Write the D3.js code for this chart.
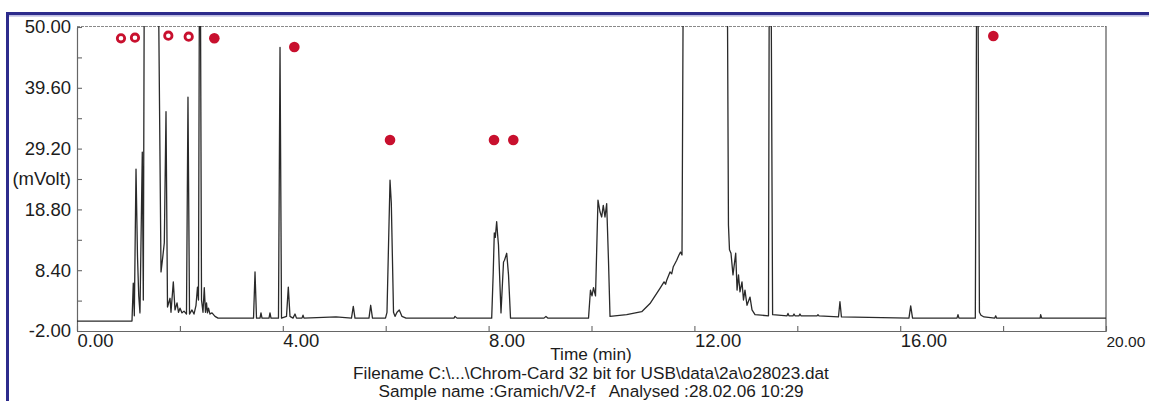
<!doctype html>

<meta charset="utf-8">
<title>chromatogram o28023</title>

<script src="https://d3js.org/d3.v7.min.js"></script>

<style>
  body { margin: 0; background: #fff; }
  svg text { font-family: "Liberation Sans", Arial, sans-serif; fill: #1c1c1c; }
</style>

<body>
<svg id="svg-canvas" width="1149" height="401"></svg>
<script>

// axis ticks
var yMajor = [-2, 8.4, 18.8, 29.2, 39.6, 50];
var yMinor = [3.2, 13.6, 24.0, 34.4, 44.8];
var xMajor = [0, 4, 8, 12, 16, 20];
var xMinor = [2, 6, 10, 14, 18];

// detector trace [time (min), mVolt]. 60 = off scale
var traceA = [
  [0, -0.3], [1.069, -0.3], [1.094, 6.2], [1.114, 0.6], [1.147, 25.7], [1.176, 10.7],
  [1.200, 4.0], [1.224, 1.1], [1.269, 28.6], [1.289, 3.3], [1.308, 60], [1.580, 60],
  [1.633, 8.1], [1.665, 10.5], [1.697, 13.1], [1.730, 35.5], [1.759, 2.1], [1.808, 3.6],
  [1.827, 1.2], [1.872, 6.4], [1.905, 1.6], [1.944, 2.8], [1.973, 1.2], [2.002, 1.9],
  [2.041, 1.1], [2.080, 1.4], [2.128, 0.9], [2.157, 38.0], [2.187, 0.9], [2.235, 1.6],
  [2.274, 0.9], [2.313, 2.4], [2.342, 5.5], [2.361, 3.3], [2.380, 60], [2.398, 60],
  [2.420, 3.3], [2.449, 1.2], [2.474, 5.4], [2.497, 1.2], [2.517, 2.8], [2.536, 1.1],
  [2.556, 1.9], [2.585, 0.9], [2.624, 1.1], [2.682, 0.5], [2.741, 0.2]
];
var traceB = [
  [3.431, 0.2], [3.460, 8.1], [3.489, 0.2], [3.557, 0.2], [3.576, 1.1], [3.596, 0.2],
  [3.732, 0.2], [3.751, 1.1], [3.771, 0.2], [3.916, 0.2], [3.946, 46.5], [3.975, 0.2],
  [4.072, 0.5], [4.107, 5.5], [4.140, 0.5], [4.198, 0.2], [4.237, 0.9], [4.266, 0.2],
  [4.373, 0.2], [4.393, 0.7], [4.412, 0.2], [5.034, 0.4], [5.335, 0.2], [5.370, 2.2],
  [5.403, 0.2], [5.675, 0.2], [5.708, 2.4], [5.743, 0.2], [5.996, 0.2], [6.025, 1.2],
  [6.084, 23.8], [6.109, 19.9], [6.152, 1.2], [6.181, 0.5], [6.220, 1.2], [6.264, 1.6],
  [6.317, 0.5], [6.394, 0.2]
];
var traceC = [
  [7.327, 0.2], [7.347, 0.5], [7.385, 0.2], [8.060, 0.2], [8.090, 8.0], [8.111, 14.8],
  [8.130, 14.0], [8.157, 16.7], [8.175, 14.5], [8.192, 12.7], [8.241, 1.1], [8.290, 9.8],
  [8.309, 10.1], [8.352, 11.3], [8.387, 7.6], [8.426, 0.2], [9.077, 0.2], [9.115, 0.5],
  [9.155, 0.2], [9.942, 0.2], [9.980, 5.0], [10.010, 4.0], [10.039, 5.4], [10.078, 4.0],
  [10.126, 20.4], [10.165, 18.4], [10.198, 17.5], [10.229, 19.5], [10.262, 17.5],
  [10.295, 19.8], [10.330, 10.1], [10.360, 0.5], [10.684, 0.8], [10.976, 1.3],
  [11.137, 2.7], [11.331, 5.3], [11.410, 6.4], [11.440, 6.0], [11.462, 6.7], [11.526, 8.1],
  [11.560, 7.8], [11.590, 9.0], [11.656, 10.1], [11.700, 11.0], [11.730, 11.5],
  [11.759, 11.0], [11.784, 60]
];
var traceD = [
  [12.639, 60], [12.662, 16.1], [12.682, 11.9], [12.711, 11.3], [12.750, 7.6],
  [12.803, 11.3], [12.829, 5.0], [12.857, 7.6], [12.886, 4.7], [12.925, 6.4],
  [12.954, 3.3], [12.983, 5.0], [13.022, 2.4], [13.081, 3.8], [13.120, 1.6],
  [13.178, 0.8], [13.440, 0.6], [13.455, 60], [13.490, 60], [13.520, 0.8],
  [13.800, 0.6], [13.819, 1.0], [13.838, 0.6], [13.916, 0.6], [13.936, 0.9],
  [13.955, 0.6], [14.032, 0.6], [14.052, 0.9], [14.071, 0.6], [14.383, 0.6],
  [14.402, 0.8], [14.421, 0.6], [14.800, 0.4], [14.829, 3.0], [14.858, 0.4],
  [16.170, 0.2], [16.204, 2.3], [16.240, 0.2], [17.104, 0.2], [17.123, 0.8],
  [17.142, 0.2], [17.460, 0.2], [17.487, 60], [17.510, 60], [17.540, 1.2],
  [17.570, 0.7], [17.630, 0.4], [17.836, 0.2], [17.856, 0.6], [17.876, 0.2],
  [18.720, 0.2], [18.730, 0.8], [18.750, 0.2], [20, 0.2]
];

// peak markers [time, mVolt]
var openMarks = [[0.855, 48.07], [1.127, 48.17], [1.775, 48.51], [2.171, 48.34]];
var filledMarks = [[2.669, 48.07], [4.224, 46.58], [6.084, 30.67], [8.105, 30.67],
                   [8.48, 30.67], [17.81, 48.46]];

var fileLines = [
  "Time (min)",
  "Filename C:\\...\\Chrom-Card 32 bit for USB\\data\\2a\\o28023.dat",
  "Sample name :Gramich/V2-f   Analysed :28.02.06 10:29"
];

var trace = traceA.concat(traceB, traceC, traceD);

var svg = d3.select("#svg-canvas");

var x = d3.scaleLinear().domain([0, 20]).range([77, 1106]);
var y = d3.scaleLinear().domain([-2, 50]).range([331, 27]);

// blue frame of the page
svg.append("path")
    .attr("d", "M7.5,401V13.5H1149")
    .attr("fill", "none")
    .attr("stroke", "#2d2b8c")
    .attr("stroke-width", 3);
svg.append("line")
    .attr("x1", 9).attr("x2", 1149).attr("y1", 15.8).attr("y2", 15.8)
    .attr("stroke", "#aaa8d8").attr("stroke-width", 1.3);

// plot box top & right
svg.append("line")
    .attr("x1", 77).attr("x2", 1106).attr("y1", 26.5).attr("y2", 26.5)
    .attr("stroke", "#8a8a8a").attr("stroke-dasharray", "3,1");
svg.append("line")
    .attr("x1", 1106).attr("x2", 1106).attr("y1", 26).attr("y2", 331)
    .attr("stroke", "#555").attr("stroke-width", 1.2);

function fmt(d) { return d.toFixed(2); }

var yAxis = svg.append("g")
    .attr("transform", "translate(77,0)")
    .call(d3.axisLeft(y).tickValues(yMajor).tickSize(-5).tickSizeOuter(0)
          .tickPadding(6).tickFormat(fmt));
svg.append("g")
    .attr("transform", "translate(77,0)")
    .call(d3.axisLeft(y).tickValues(yMinor).tickSize(-5).tickSizeOuter(0)
          .tickPadding(6).tickFormat(function(d) { return d === 24 ? "(mVolt)" : ""; }));

var xAxis = svg.append("g")
    .attr("transform", "translate(0,331)")
    .call(d3.axisBottom(x).tickValues(xMajor).tickSize(-5).tickSizeOuter(0)
          .tickPadding(3).tickFormat(fmt));
svg.append("g")
    .attr("transform", "translate(0,331)")
    .call(d3.axisBottom(x).tickValues(xMinor).tickSize(-5).tickSizeOuter(0).tickFormat(""));

svg.selectAll("g")
    .attr("font-family", null)
    .attr("font-size", 18.5);
svg.selectAll(".domain, .tick line").attr("stroke", "#666").attr("stroke-width", 1.1);

xAxis.selectAll("text").attr("text-anchor", "start");
// last label sits at the page edge, keep it a bit smaller so it fits
xAxis.selectAll("text").filter(function(d) { return d === 20; })
    .attr("font-size", 15.5)
    .attr("dy", "0.85em");

// trace, clipped to the plot box
svg.append("clipPath").attr("id", "plot-clip")
  .append("rect")
    .attr("x", 77).attr("y", 26).attr("width", 1029).attr("height", 305);

var line = d3.line()
    .x(function(d) { return x(d[0]); })
    .y(function(d) { return y(d[1]); });

svg.append("path")
    .datum(trace)
    .attr("clip-path", "url(#plot-clip)")
    .attr("d", line)
    .attr("fill", "none")
    .attr("stroke", "#2a2a2a")
    .attr("stroke-width", 1.3)
    .attr("stroke-linejoin", "round");

// markers
svg.selectAll("circle.open")
    .data(openMarks)
  .enter().append("circle")
    .attr("class", "open")
    .attr("cx", function(d) { return x(d[0]); })
    .attr("cy", function(d) { return y(d[1]); })
    .attr("r", 3.7)
    .attr("fill", "#fff")
    .attr("stroke", "#c8102e")
    .attr("stroke-width", 2.8);

svg.selectAll("circle.filled")
    .data(filledMarks)
  .enter().append("circle")
    .attr("class", "filled")
    .attr("cx", function(d) { return x(d[0]); })
    .attr("cy", function(d) { return y(d[1]); })
    .attr("r", 5.3)
    .attr("fill", "#c8102e");

// captions under the axis
svg.selectAll("text.caption")
    .data(fileLines)
  .enter().append("text")
    .attr("class", "caption")
    .attr("x", 591)
    .attr("y", function(d, i) { return 360 + i * 18.5; })
    .attr("text-anchor", "middle")
    .attr("font-size", 17.2)
    .style("white-space", "pre")
    .text(function(d) { return d; });

</script>
</body>
